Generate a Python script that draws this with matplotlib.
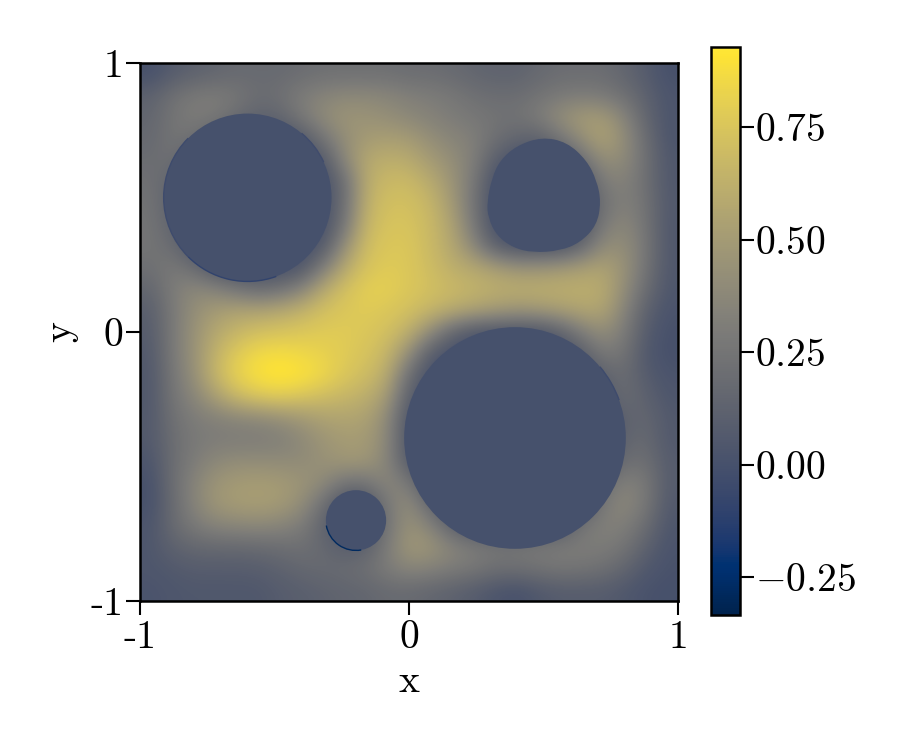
import numpy as np
import matplotlib
matplotlib.use('Agg')
import matplotlib.pyplot as plt
from matplotlib.colors import Normalize
from matplotlib.patches import Arc, Circle, PathPatch
from matplotlib.path import Path

plt.rcParams['font.family'] = ['cmr10', 'DejaVu Sans']
plt.rcParams['mathtext.fontset'] = 'cm'
plt.rcParams['axes.formatter.use_mathtext'] = True
plt.rcParams['font.size'] = 28.5

# field, top row first (y = 1 down to y = -1)
field = [
    [.00, .08, .12, .15, .18, .18, .18, .20, .22, .22, .22, .22, .20, .20, .18, .15, .13, .13, .17, .20, .20, .20, .15, .08, .00],
    [.12, .22, .28, .30, .26, .20, .22, .30, .35, .38, .38, .36, .32, .30, .27, .22, .20, .20, .24, .28, .30, .28, .22, .12, .03],
    [.15, .25, .30, .28, .20, .13, .15, .28, .40, .46, .45, .42, .38, .34, .30, .27, .24, .24, .30, .42, .50, .50, .36, .15, .03],
    [.17, .25, .22, .10, .00, .00, .00, .05, .25, .42, .50, .52, .50, .42, .36, .32, .22, .15, .12, .25, .42, .55, .42, .20, .03],
    [.20, .22, .08, .00, .00, .00, .00, .00, .05, .38, .58, .62, .60, .50, .42, .32, .10, .00, .00, .00, .20, .42, .40, .22, .05],
    [.22, .15, .00, .00, .00, .00, .00, .00, .00, .20, .60, .68, .68, .60, .46, .28, .00, .00, .00, .00, .00, .30, .34, .22, .05],
    [.24, .12, .00, .00, .00, .00, .00, .00, .00, .20, .62, .72, .72, .66, .50, .25, .00, .00, .00, .00, .00, .22, .33, .24, .06],
    [.25, .14, .00, .00, .00, .00, .00, .00, .00, .25, .66, .74, .74, .68, .55, .28, .00, .00, .00, .00, .00, .28, .38, .25, .05],
    [.25, .20, .03, .00, .00, .00, .00, .00, .05, .42, .70, .76, .76, .68, .58, .38, .10, .00, .00, .00, .15, .40, .42, .27, .05],
    [.22, .28, .20, .02, .00, .00, .00, .03, .30, .58, .74, .78, .76, .70, .62, .58, .52, .45, .45, .48, .52, .55, .45, .25, .05],
    [.15, .30, .38, .35, .25, .18, .22, .35, .58, .72, .80, .80, .76, .72, .68, .65, .62, .62, .62, .62, .62, .60, .42, .20, .04],
    [.10, .28, .42, .50, .55, .55, .58, .64, .72, .76, .78, .76, .72, .66, .60, .55, .50, .46, .48, .52, .56, .56, .36, .12, .02],
    [.08, .28, .44, .58, .66, .72, .74, .76, .78, .78, .76, .72, .62, .40, .15, .02, .00, .00, .00, .10, .30, .42, .30, .08, .00],
    [.06, .28, .44, .64, .78, .86, .88, .85, .82, .78, .74, .66, .42, .08, .00, .00, .00, .00, .00, .00, .08, .28, .25, .05, .00],
    [.05, .26, .42, .66, .82, .90, .93, .91, .85, .76, .70, .60, .20, .00, .00, .00, .00, .00, .00, .00, .00, .12, .20, .08, .02],
    [.05, .25, .36, .52, .68, .76, .79, .75, .70, .66, .62, .50, .10, .00, .00, .00, .00, .00, .00, .00, .00, .06, .20, .12, .04],
    [.06, .22, .30, .33, .36, .38, .42, .48, .54, .56, .54, .40, .02, .00, .00, .00, .00, .00, .00, .00, .00, .00, .12, .16, .06],
    [.06, .20, .28, .30, .30, .30, .32, .38, .46, .50, .50, .38, .02, .00, .00, .00, .00, .00, .00, .00, .00, .00, .14, .18, .06],
    [.03, .20, .30, .38, .41, .41, .40, .40, .44, .48, .48, .36, .06, .00, .00, .00, .00, .00, .00, .00, .00, .02, .20, .22, .08],
    [.00, .20, .35, .46, .50, .51, .50, .46, .40, .25, .25, .38, .28, .00, .00, .00, .00, .00, .00, .00, .00, .18, .34, .28, .08],
    [.00, .18, .35, .47, .51, .52, .50, .42, .22, .00, .00, .28, .42, .15, .00, .00, .00, .00, .00, .00, .00, .28, .38, .28, .06],
    [.03, .18, .28, .35, .37, .38, .36, .30, .14, .00, .00, .25, .45, .35, .12, .00, .00, .00, .00, .03, .25, .33, .32, .20, .04],
    [.04, .12, .16, .17, .17, .18, .20, .22, .17, .10, .12, .30, .48, .46, .36, .30, .26, .26, .28, .30, .30, .30, .25, .12, .02],
    [.04, .06, .08, .08, .08, .09, .12, .16, .18, .19, .22, .30, .36, .34, .30, .27, .22, .22, .24, .26, .25, .22, .15, .05, .01],
    [.02, .04, .05, .05, .05, .05, .08, .10, .12, .14, .15, .18, .18, .15, .12, .08, .03, .00, .05, .08, .08, .08, .05, .01, .00],
]
vmin, vmax = -0.334, 0.928

# round holes: centre x, centre y, radius
hole_x = [-0.600, 0.394, -0.197]
hole_y = [0.500, -0.394, -0.700]
hole_r = [0.312, 0.412, 0.112]

# the egg shaped hole, outline
egg_x = [.494, .587, .661, .698, .714, .698, .636, .561, .461, .387, .326, .294, .290, .308, .338, .400]
egg_y = [.725, .706, .638, .563, .484, .396, .332, .302, .295, .313, .358, .424, .484, .572, .638, .693]

# dark rims: hole index, from angle, to angle, value
rim_hole = [0, 0, 0, 1, 2]
rim_from = [135, 225, 25, 20, 190]
rim_to = [225, 290, 50, 40, 280]
rim_val = [-0.04, -0.1, -0.03, -0.04, -0.28]

cmap = plt.get_cmap('cividis')
norm = Normalize(vmin, vmax)

fig = plt.figure(figsize=(9, 7.5), dpi=100)
ax = fig.add_axes([140 / 900, 149 / 750, 538 / 900, 538 / 750])
im = ax.imshow(field, extent=(-1, 1, -1, 1), origin='upper', cmap=cmap, norm=norm,
               interpolation='bicubic', aspect='equal')

flat = cmap(norm(0.0))
for x, y, r in zip(hole_x, hole_y, hole_r):
    ax.add_patch(Circle((x, y), r, fc=flat, ec='none', zorder=2))

# smooth closed curve through the egg outline
pts = np.column_stack((egg_x, egg_y))
mids = (pts + np.roll(pts, -1, axis=0)) / 2
verts = [mids[-1]]
codes = [Path.MOVETO]
for p, m in zip(pts, mids):
    verts += [p, m]
    codes += [Path.CURVE3, Path.CURVE3]
ax.add_patch(PathPatch(Path(verts, codes), fc=flat, ec='none', zorder=2))

for h, a, b, v in zip(rim_hole, rim_from, rim_to, rim_val):
    d = 2 * hole_r[h]
    ax.add_patch(Arc((hole_x[h], hole_y[h]), d, d, theta1=a, theta2=b,
                     color=cmap(norm(v)), lw=1.0, zorder=3))

ax.set_xlim(-1, 1)
ax.set_ylim(-1, 1)
ax.set_xticks([-1, 0, 1], ['-1', '0', '1'])
ax.set_yticks([-1, 0, 1], ['-1', '0', '1'])
ax.set_xlabel('x', labelpad=6)
ax.set_ylabel('y', labelpad=9)
ax.tick_params(length=10, width=1.5)
ax.tick_params(axis='x', pad=4)
ax.tick_params(axis='y', pad=2)
for s in ax.spines.values():
    s.set_linewidth(1.8)

cax = fig.add_axes([711 / 900, 135 / 750, 29 / 900, 568 / 750])
cb = fig.colorbar(im, cax=cax)
cb.set_ticks([-0.25, 0, 0.25, 0.5, 0.75], labels=['$-0.25$', '$0.00$', '$0.25$', '$0.50$', '$0.75$'])
cb.ax.tick_params(length=10, width=1.5, pad=1)
cb.outline.set_linewidth(1.8)

fig.savefig('out.png', dpi=100)
